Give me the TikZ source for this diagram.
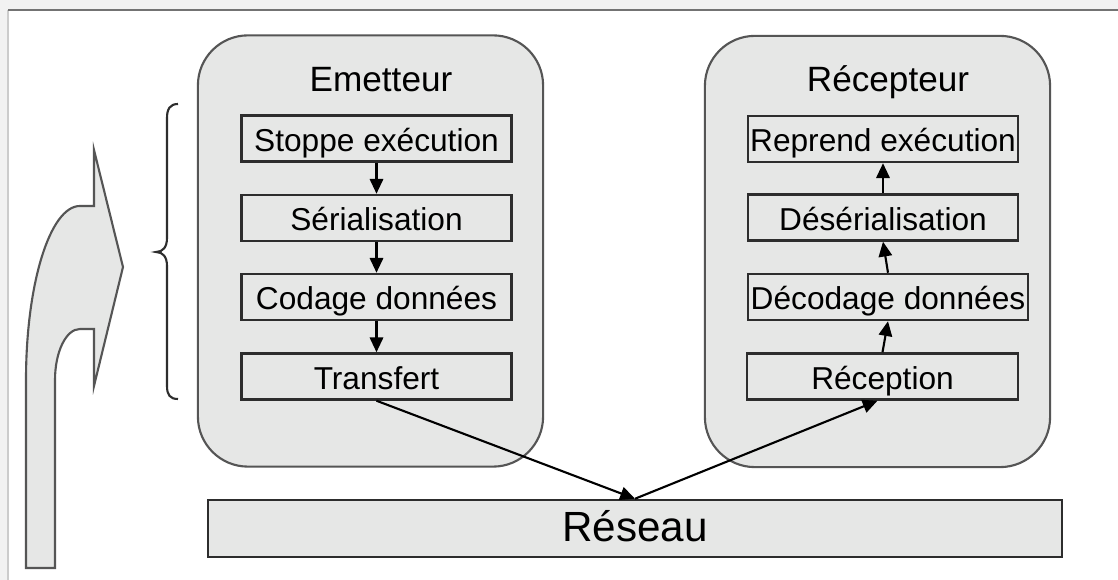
\documentclass[tikz,border=0pt]{standalone}
\usepackage{fontspec}
\setmainfont{Liberation Sans}
\usepackage{xcolor}
\usetikzlibrary{arrows.meta,calc}

\definecolor{boxgray}{RGB}{230,231,230}
\definecolor{linegray}{RGB}{45,45,45}
\definecolor{edgegray}{RGB}{85,85,85}

\begin{document}
\begin{tikzpicture}[x=0.01cm, y=-0.01cm,
    >={Triangle[length=4.2pt,width=3.8pt]},
    machine/.style={draw=edgegray, line width=0.6pt, fill=boxgray, rectangle, rounded corners=0.5cm, minimum width=3.45cm, minimum height=4.31cm},
    stage/.style={draw=linegray, line width=0.7pt, fill=boxgray, rectangle, minimum height=0.46cm, inner sep=0pt, font=\fontsize{9}{10}\selectfont, text height=0.72em, text depth=0pt},
    title/.style={font=\fontsize{10}{12}\selectfont, anchor=base},
    link/.style={->, draw=black, line width=0.6pt}]
    \useasboundingbox (0,0) rectangle (1118,580);
    % frame
    \fill [black!5] (0,0) rectangle (1118,580);
    \fill [white] (8,10) rectangle (1118,580);
    \draw [black!20, line width=0.5pt] (8,580) -- (8,10);
    \draw [black!55, line width=0.6pt] (8,10) -- (1118,10);

    % migration arrow and brace
    \draw [draw=edgegray, line width=0.6pt, fill=boxgray] (94,150) -- (94,206) -- (80,206) .. controls (50,206) and (26,284) .. (26,380) -- (26,568) -- (55,568) -- (55,380) .. controls (55,352) and (66,329) .. (80,329) -- (94,329) -- (94,386) -- (123,267) -- cycle;
    \draw [draw=linegray, line width=0.6pt] (178,104) .. controls (170,104) and (167,109) .. (167,118) -- (167,238) .. controls (167,247) and (163,252) .. (156,252) .. controls (163,252) and (167,257) .. (167,266) -- (167,386) .. controls (167,395) and (170,399) .. (178,399);

    % sender
    \node (emet) [machine] at (370.5,251) {};
    \node (emettitle) [title] at (381,92) {Emetteur};
    \node (stop) [stage, minimum width=2.70cm] at (376.5,138.5) {Stoppe exécution};
    \node (ser) [stage, minimum width=2.70cm] at (376.5,218) {Sérialisation};
    \node (cod) [stage, minimum width=2.70cm] at (376.5,297) {Codage données};
    \node (tra) [stage, minimum width=2.70cm] at (376.5,376.5) {Transfert};

    % receiver
    \node (recp) [machine] at (877.5,251.5) {};
    \node (recptitle) [title] at (888,92) {Récepteur};
    \node (rep) [stage, minimum width=2.70cm] at (883,139) {Reprend exécution};
    \node (deser) [stage, minimum width=2.70cm] at (883,217.5) {Désérialisation};
    \node (dec) [stage, minimum width=2.80cm] at (888,297) {Décodage données};
    \node (rec) [stage, minimum width=2.71cm] at (882.5,376.5) {Réception};

    % network
    \node (res) [stage, minimum width=8.54cm, minimum height=0.57cm, font=\fontsize{12}{14}\selectfont] at (635,528.5) {Réseau};

    \draw [link] (stop) -- (ser);
    \draw [link] (ser) -- (cod);
    \draw [link] (cod) -- (tra);
    \draw [link] (tra.south) -- (res.north);
    \draw [link] (res.north) -- ([xshift=-0.05cm] rec.south);
    \draw [link] (rec.north) -- (dec.south);
    \draw [link] (dec.north) -- (deser.south);
    \draw [link] (deser) -- (rep);
\end{tikzpicture}
\end{document}
